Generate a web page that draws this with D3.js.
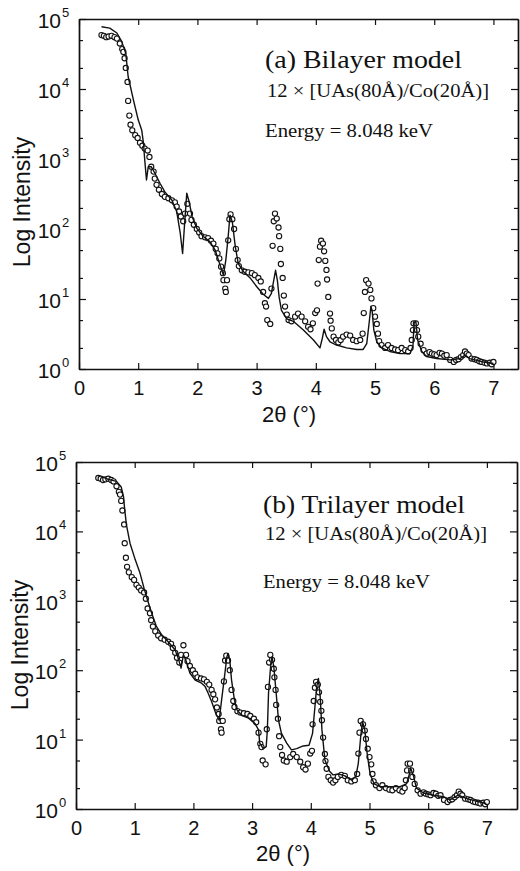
<!DOCTYPE html>
<html>
<head>
<meta charset="utf-8">
<script src="https://cdn.jsdelivr.net/npm/d3@7/dist/d3.min.js"></script>
<style>
  html, body { margin: 0; padding: 0; background: #fff; }
  svg { display: block; }
  .tick text { font-family: "Liberation Sans", Arial, sans-serif; }
</style>
</head>
<body>
<svg id="chart" width="520" height="871"></svg>
<script>
// ---------- DATA ----------
// Measured reflectivity (circles), 2θ in degrees and intensity
const measTheta = [0.38,0.42,0.46,0.50,0.55,0.60,0.64,0.69,0.73,0.75,0.77,0.79,0.82,0.83,0.85,0.87,0.90,0.95,0.99,1.03,1.07,1.11,1.16,1.19,1.22,1.26,1.28,1.31,1.35,1.40,1.45,1.51,1.57,1.62,1.65,1.69,1.72,1.76,1.79,1.83,1.875,1.90,1.94,1.99,2.03,2.07,2.13,2.18,2.23,2.27,2.31,2.34,2.37,2.40,2.43,2.44,2.47,2.48,2.50,2.52,2.54,2.56,2.59,2.62,2.65,2.68,2.70,2.75,2.80,2.86,2.92,2.97,3.03,3.07,3.11,3.14,3.16,3.18,3.23,3.25,3.27,3.29,3.31,3.34,3.37,3.38,3.40,3.41,3.44,3.46,3.48,3.51,3.54,3.59,3.65,3.70,3.76,3.82,3.87,3.91,3.95,3.99,4.02,4.03,4.05,4.07,4.09,4.12,4.14,4.16,4.18,4.19,4.21,4.24,4.25,4.27,4.30,4.34,4.38,4.42,4.46,4.52,4.58,4.63,4.69,4.75,4.79,4.81,4.83,4.85,4.89,4.92,4.94,4.97,5.00,5.03,5.05,5.07,5.11,5.17,5.22,5.28,5.34,5.39,5.45,5.51,5.56,5.60,5.62,5.64,5.65,5.69,5.71,5.73,5.77,5.82,5.87,5.92,5.96,6.00,6.04,6.09,6.13,6.17,6.21,6.27,6.33,6.37,6.41,6.45,6.49,6.52,6.55,6.58,6.63,6.68,6.72,6.76,6.80,6.85,6.89,6.94,6.97,7.00];
const measured = [58900,57500,55000,56200,57500,55000,52500,44700,37200,33900,27500,20000,12600,6760,4170,3090,2570,2190,2000,1700,1550,1410,1320,1070,776,661,525,427,363,316,288,275,257,240,209,178,151,129,166,229,166,135,115,100,89,79,76,74,68,62,52,45,38,29,23.4,18.6,14.1,12.6,18.6,69,138,162,138,100,52,36,29.5,25.7,24.5,24,23.4,21.9,20,17.8,12.6,8.7,7.8,5.0,4.4,14.1,57.5,129,166,141,105,79,52,31.6,20,11.2,7.8,6.0,5.0,4.8,5.6,6.2,5.6,4.8,4.0,3.7,4.5,6.3,6.9,16.6,36,56,68,62,48,35,26,19,10.7,6.2,4.9,3.8,2.9,2.6,2.4,2.6,2.9,3.1,3.0,2.6,2.5,2.6,3.2,6.3,12.6,18.6,16.6,13.5,10.2,7.4,5.6,4.4,3.2,2.5,2.2,2.0,2.2,2.0,1.9,1.86,2.0,1.86,1.78,2.0,2.6,3.6,4.5,4.5,3.6,2.9,2.3,1.86,1.66,1.74,1.66,1.62,1.58,1.70,1.66,1.55,1.58,1.35,1.26,1.35,1.38,1.48,1.58,1.78,1.66,1.58,1.41,1.38,1.35,1.29,1.26,1.23,1.20,1.23,1.17,1.26];

// (a) Bilayer model fit (solid line)
const bilayerTheta = [0.38,0.52,0.64,0.72,0.79,0.83,0.92,1.00,1.06,1.09,1.11,1.14,1.17,1.22,1.28,1.37,1.45,1.57,1.65,1.71,1.75,1.78,1.82,1.86,1.91,1.99,2.10,2.21,2.30,2.38,2.44,2.48,2.52,2.55,2.59,2.64,2.69,2.78,2.89,3.00,3.11,3.20,3.25,3.29,3.32,3.35,3.38,3.42,3.51,3.62,3.79,3.96,4.07,4.11,4.14,4.18,4.24,4.35,4.52,4.69,4.80,4.86,4.90,4.93,4.95,4.98,5.03,5.11,5.25,5.42,5.59,5.64,5.66,5.69,5.72,5.79,5.87,6.04,6.27,6.44,6.52,6.60,6.83,7.00];
const bilayerFit = [77600,74100,63100,47900,32400,15100,6920,3630,2570,1660,977,501,776,776,631,447,339,257,178,87,44.7,107,324,245,151,102,78,66,50,31,21.9,36,78,158,126,56,32,24.5,20,15.1,11.7,10.2,12,18.6,25.7,18.6,10.7,6.9,5.2,4.8,3.6,2.6,2.0,2.75,3.7,2.9,2.45,2.2,2.0,1.9,1.9,2.3,4.5,7.8,6.9,3.6,2.45,2.0,1.78,1.66,1.66,2.1,4.5,4.8,2.6,1.78,1.51,1.41,1.35,1.41,1.58,1.41,1.26,1.20];

// (b) Trilayer model fit (solid line)
const trilayerTheta = [0.44,0.55,0.69,0.77,0.81,0.83,0.86,0.92,1.01,1.09,1.16,1.22,1.29,1.37,1.46,1.57,1.69,1.75,1.79,1.83,1.87,1.94,2.03,2.14,2.20,2.25,2.31,2.38,2.44,2.48,2.53,2.57,2.59,2.62,2.65,2.70,2.74,2.82,2.94,3.05,3.11,3.13,3.19,3.24,3.26,3.28,3.32,3.34,3.37,3.41,3.45,3.50,3.59,3.67,3.76,3.87,3.97,4.03,4.07,4.10,4.13,4.16,4.19,4.24,4.32,4.38,4.47,4.58,4.70,4.77,4.81,4.85,4.88,4.92,4.96,5.01,5.08,5.18,5.35,5.52,5.63,5.68,5.70,5.75,5.80,5.92,6.09,6.26,6.37,6.51,6.66,6.83,6.99];
const trilayerFit = [61700,56200,52500,43700,31600,20400,12300,6760,3890,2510,1510,1020,661,427,324,257,195,141,107,166,141,91,72,65,58,47,35.5,24,19,37,81,155,174,141,72,37,27,22.4,20.4,17,13.8,8.9,7.4,7.9,13.8,47,126,155,112,47,19,12.3,8.9,7.1,7.4,8.1,8.3,12.3,29.5,57.5,76,41.7,13.8,5.1,3.5,3.1,3.2,3.0,2.6,3.0,4.6,11,18.2,13.8,6.3,3.2,2.3,2.1,2.1,2.1,2.3,3.2,3.9,3.0,2.0,1.70,1.58,1.51,1.35,1.58,1.41,1.29,1.20];

// Axis ticks
const xTicks = [0,1,2,3,4,5,6,7];
const yMajorTicks = [1,10,100,1000,10000,100000];
const yExponents = ["0","1","2","3","4","5"];
const yMinorTicks = [2,5,20,50,200,500,2000,5000,20000,50000];

// Texts
const xTitle = "2θ (°)";
const yTitle = "Log Intensity";
const panelTitles = ["(a) Bilayer model", "(b) Trilayer model"];
const sampleText = "12 × [UAs(80Å)/Co(20Å)]";
const energyText = "Energy = 8.048 keV";

// ---------- LAYOUT ----------
const panels = [
  { left: 79, right: 518, top: 19, bottom: 369, xMax: 7.415,
    fitTheta: bilayerTheta, fit: bilayerFit, title: panelTitles[0],
    tx: 265, tyTitle: 68, tySample: 97, tyEnergy: 137, titleLen: 197, sampleLen: 222, energyLen: 168,
    xTitleX: 289, xTitleY: 422, yTitleX: 30, yTitleY: 202 },
  { left: 76, right: 517, top: 462, bottom: 809, xMax: 7.513,
    fitTheta: trilayerTheta, fit: trilayerFit, title: panelTitles[1],
    tx: 263, tyTitle: 513, tySample: 540, tyEnergy: 588, titleLen: 202, sampleLen: 222, energyLen: 167,
    xTitleX: 283, xTitleY: 861, yTitleX: 28, yTitleY: 645 }
];

const ink = "#111";
const svg = d3.select("#chart");
const sans = '"Liberation Sans", Arial, Helvetica, sans-serif';
const serif = '"Liberation Serif", "Times New Roman", Times, serif';

panels.forEach((p, pi) => {
  const x = d3.scaleLinear().domain([0, p.xMax]).range([p.left, p.right]);
  const y = d3.scaleLog().domain([1, 100000]).range([p.bottom, p.top]);
  const g = svg.append("g");

  const styleAxis = sel => {
    sel.select(".domain").attr("stroke", ink).attr("stroke-width", 1.4);
    sel.selectAll(".tick line").attr("stroke", ink).attr("stroke-width", 1.2);
  };

  // bottom axis with labels
  g.append("g").attr("transform", `translate(0,${p.bottom})`)
    .call(d3.axisBottom(x).tickValues(xTicks).tickFormat(d3.format("d"))
      .tickSizeInner(-6).tickSizeOuter(0).tickPadding(12))
    .call(styleAxis)
    .call(s => s.selectAll(".tick text").attr("font-size", 20).attr("fill", ink).attr("font-family", sans));
  // top axis
  g.append("g").attr("transform", `translate(0,${p.top})`)
    .call(d3.axisTop(x).tickValues(xTicks).tickFormat("").tickSizeInner(-6).tickSizeOuter(0))
    .call(styleAxis);
  // left axis major
  g.append("g").attr("transform", `translate(${p.left},0)`)
    .call(d3.axisLeft(y).tickValues(yMajorTicks).tickFormat("").tickSizeInner(-7).tickSizeOuter(0))
    .call(styleAxis);
  // left axis minor
  g.append("g").attr("transform", `translate(${p.left},0)`)
    .call(d3.axisLeft(y).tickValues(yMinorTicks).tickFormat("").tickSizeInner(-4).tickSizeOuter(0))
    .call(styleAxis);
  // right axis major + minor
  g.append("g").attr("transform", `translate(${p.right},0)`)
    .call(d3.axisRight(y).tickValues(yMajorTicks).tickFormat("").tickSizeInner(-7).tickSizeOuter(0))
    .call(styleAxis);
  g.append("g").attr("transform", `translate(${p.right},0)`)
    .call(d3.axisRight(y).tickValues(yMinorTicks).tickFormat("").tickSizeInner(-4).tickSizeOuter(0))
    .call(styleAxis);

  // y tick labels 10^n
  const yl = g.append("g").attr("font-family", sans).attr("fill", ink);
  yMajorTicks.forEach((v, i) => {
    yl.append("text").attr("x", p.left - 18).attr("y", y(v) + 9)
      .attr("text-anchor", "end").attr("font-size", 21).text("10");
    yl.append("text").attr("x", p.left - 17).attr("y", y(v) - 2)
      .attr("text-anchor", "start").attr("font-size", 13).text(yExponents[i]);
  });

  // axis titles
  g.append("text").attr("x", p.xTitleX).attr("y", p.xTitleY)
    .attr("text-anchor", "middle").attr("font-family", sans).attr("font-size", 22)
    .attr("fill", ink).text(xTitle);
  g.append("text").attr("transform", `translate(${p.yTitleX},${p.yTitleY}) rotate(-90)`)
    .attr("text-anchor", "middle").attr("font-family", sans).attr("font-size", 23)
    .attr("fill", ink).text(yTitle);

  // measured data circles
  const pts = measTheta.map((t, i) => [t, measured[i]]);
  g.append("g").selectAll("circle").data(pts).join("circle")
    .attr("cx", d => x(d[0])).attr("cy", d => y(d[1])).attr("r", 2.6)
    .attr("fill", "#fff").attr("stroke", ink).attr("stroke-width", 1.1);

  // fit line
  const fitPts = p.fitTheta.map((t, i) => [t, p.fit[i]]);
  g.append("path").datum(fitPts)
    .attr("fill", "none").attr("stroke", ink).attr("stroke-width", 1.4)
    .attr("stroke-linejoin", "round")
    .attr("d", d3.line().x(d => x(d[0])).y(d => y(d[1])));

  // annotations
  const ann = g.append("g").attr("font-family", serif).attr("fill", ink);
  ann.append("text").attr("x", p.tx).attr("y", p.tyTitle).attr("font-size", 25)
    .attr("textLength", p.titleLen).attr("lengthAdjust", "spacingAndGlyphs").text(p.title);
  ann.append("text").attr("x", p.tx + 2).attr("y", p.tySample).attr("font-size", 18)
    .attr("textLength", p.sampleLen).attr("lengthAdjust", "spacingAndGlyphs").text(sampleText);
  ann.append("text").attr("x", p.tx).attr("y", p.tyEnergy).attr("font-size", 19)
    .attr("textLength", p.energyLen).attr("lengthAdjust", "spacingAndGlyphs").text(energyText);
});
</script>
</body>
</html>
